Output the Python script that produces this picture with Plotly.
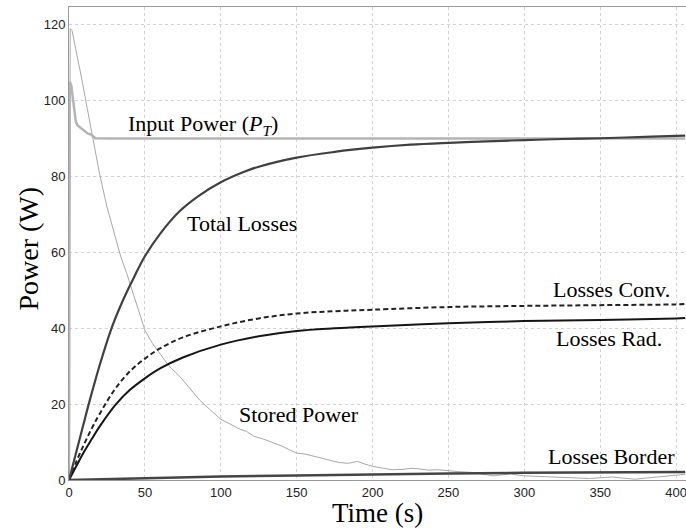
import plotly.graph_objects as go

# ---- data ----
t_total = [0, 5, 10, 13, 20, 28, 36, 43, 50, 60, 73, 85, 100, 115, 125, 150, 175, 200, 225, 250, 275, 300, 325, 350, 375, 400, 406]
v_total = [0, 7.7, 15.4, 20, 30, 40, 47.8, 53.6, 59, 64.9, 70.9, 74.8, 78.5, 81.2, 82.6, 85.0, 86.5, 87.6, 88.4, 88.9, 89.3, 89.6, 89.9, 90.1, 90.4, 90.7, 90.8]

t_conv = [0, 5, 10, 15, 20, 30, 40, 50, 60, 75, 100, 125, 150, 175, 200, 250, 300, 350, 400, 406]
v_conv = [0, 5, 9.5, 13.6, 17.3, 23.8, 28.6, 32.0, 34.7, 37.6, 40.5, 42.6, 43.9, 44.5, 44.9, 45.6, 45.9, 46.1, 46.3, 46.4]

t_rad = [0, 5, 10, 15, 20, 31, 40, 50, 60, 75, 100, 125, 150, 175, 200, 250, 300, 350, 400, 406]
v_rad = [0, 3.8, 7.5, 10.8, 14, 20, 23.7, 26.8, 29.4, 32.3, 35.7, 37.9, 39.3, 40.0, 40.5, 41.3, 41.9, 42.2, 42.6, 42.7]

t_border = [0, 50, 100, 150, 200, 250, 300, 350, 400, 406]
v_border = [0, 0.5, 0.9, 1.2, 1.5, 1.7, 1.9, 2.0, 2.1, 2.1]

t_input = [0, 0.5, 1.5, 3, 4.5, 5.5, 7, 9.5, 12.5, 14.5, 17.3, 30, 406]
v_input = [0, 105, 104, 99, 94.5, 93.5, 93.0, 92.1, 91.3, 91.1, 90.1, 90, 90]

t_stored = [0, 0.8, 2, 5, 8.5, 12, 16, 20, 25, 29, 34, 38, 42, 47, 50, 55, 60, 66, 73, 80, 86, 93,
            100, 106, 112, 117, 122, 128, 135, 140, 145, 150, 156, 162, 168, 172, 178, 184, 190, 195,
            200, 207, 213, 220, 226, 231, 237, 243, 250, 257, 265, 272, 280, 286, 291, 296, 300, 306,
            312, 319, 326, 333, 338, 343, 350, 358, 365, 373, 380, 387, 395, 400, 406]
v_stored = [0, 119, 118.5, 112, 105.5, 98, 89, 81, 72, 66, 59, 54.5, 49.5, 43, 39.5, 36, 33.4, 30, 27.3, 24, 21.1, 18.5,
            16, 14.8, 13.5, 12.8, 11.5, 10.8, 9.7, 9, 8, 7.1, 6.8, 6.2, 5.8, 5.2, 4.6, 4.4, 4.9, 4.2,
            3.6, 3.1, 2.7, 2.8, 3.1, 2.9, 2.6, 2.7, 2.4, 2.2, 2.0, 1.6, 1.1, 1.4, 1.6, 1.3, 1.1, 1.0,
            0.9, 0.8, 0.7, 0.6, 0.5, 0.4, 0.6, 0.8, 0.5, 0.2, 0.5, 0.8, 1.2, 1.3, 1.5]

x_ticks = [0, 50, 100, 150, 200, 250, 300, 350, 400]
y_ticks = [0, 20, 40, 60, 80, 100, 120]

labels = ["Input Power (<i>P<sub>T</sub></i>)", "Total Losses", "Stored Power",
          "Losses Conv.", "Losses Rad.", "Losses Border"]
label_x = [88.5, 114, 151.4, 357.7, 355.7, 357.7]
label_y = [93.6, 67.7, 17.2, 50.1, 37.4, 6.2]

x_title = "Time (s)"
y_title = "Power (W)"

serif = "Liberation Serif, Times New Roman, serif"
sans = "Liberation Sans, Arial, Helvetica, sans-serif"

fig = go.Figure()
fig.add_trace(go.Scatter(x=t_stored, y=v_stored, mode="lines",
                         line=dict(color="#a8a8a8", width=1), name="Stored Power"))
fig.add_trace(go.Scatter(x=t_input, y=v_input, mode="lines",
                         line=dict(color="#b4b4b4", width=2.5), name="Input Power"))
fig.add_trace(go.Scatter(x=t_border, y=v_border, mode="lines",
                         line=dict(color="#454545", width=2.5), name="Losses Border"))
fig.add_trace(go.Scatter(x=t_rad, y=v_rad, mode="lines",
                         line=dict(color="#151515", width=2, shape="spline", smoothing=1), name="Losses Rad."))
fig.add_trace(go.Scatter(x=t_conv, y=v_conv, mode="lines",
                         line=dict(color="#222222", width=2, dash="5px,3px", shape="spline", smoothing=1),
                         name="Losses Conv."))
fig.add_trace(go.Scatter(x=t_total, y=v_total, mode="lines",
                         line=dict(color="#404040", width=2.2, shape="spline", smoothing=1), name="Total Losses"))

for txt, ax, ay in zip(labels, label_x, label_y):
    fig.add_annotation(x=ax, y=ay, xref="x", yref="y", text=txt, showarrow=False,
                       font=dict(family=serif, size=22, color="#000000"))

# axis titles placed as annotations for precise placement
fig.add_annotation(x=0.5, y=-0.069, xref="paper", yref="paper", text=x_title, showarrow=False,
                   xanchor="center", yanchor="middle",
                   font=dict(family=serif, size=27, color="#000000"))
fig.add_annotation(x=-0.066, y=0.49, xref="paper", yref="paper", text=y_title, showarrow=False,
                   xanchor="center", yanchor="middle", textangle=-90,
                   font=dict(family=serif, size=28, color="#000000"))

fig.update_layout(
    width=686, height=528,
    margin=dict(l=69, r=0, t=7, b=48),
    paper_bgcolor="white", plot_bgcolor="white",
    showlegend=False,
    xaxis=dict(range=[0, 406.5], tickvals=x_ticks, ticktext=[str(v) for v in x_ticks],
               showgrid=True, gridcolor="#d2d2d2", griddash="dot", gridwidth=1,
               zeroline=False, showline=True, linecolor="#9a9a9a", linewidth=1, mirror=True,
               ticks="", ticklabeloverflow="allow",
               tickfont=dict(family=sans, size=13, color="#222222")),
    yaxis=dict(range=[0, 124.7], tickvals=y_ticks, ticktext=[str(v) for v in y_ticks],
               showgrid=True, gridcolor="#d2d2d2", griddash="dot", gridwidth=1,
               zeroline=False, showline=True, linecolor="#9a9a9a", linewidth=1, mirror=False,
               ticks="", ticklabeloverflow="allow",
               tickfont=dict(family=sans, size=13, color="#222222")),
)

fig.write_html("out.html")
